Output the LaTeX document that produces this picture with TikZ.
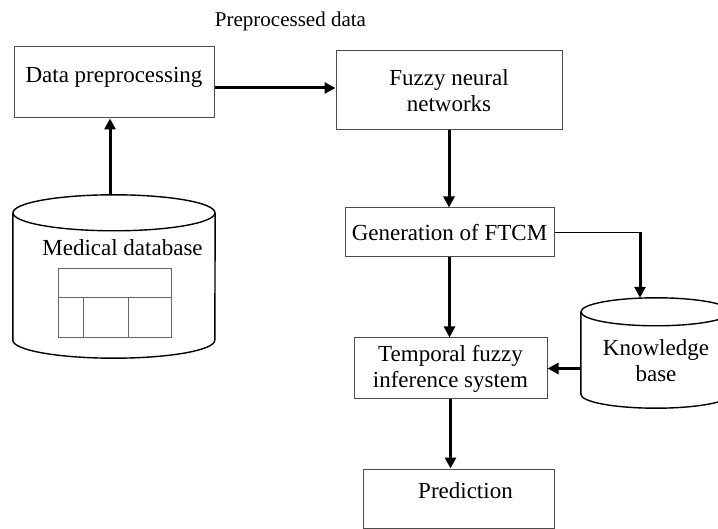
\documentclass[tikz,border=0pt]{standalone}
\usepackage{fontspec}
\setmainfont{Liberation Serif}
\usetikzlibrary{arrows.meta}
\tikzstyle{process} = [rectangle, draw=black!70, line width=1pt, inner sep=0pt, text centered, align=center, font=\fontsize{23}{26}\selectfont]
\tikzstyle{database} = [rectangle, inner sep=0pt]
\tikzstyle{plaintext} = [inner sep=0pt, align=center, font=\fontsize{23}{26}\selectfont]
\tikzstyle{cylline} = [line width=1.4pt]
\tikzstyle{tableline} = [draw=black!60, line width=0.9pt]
\tikzstyle{link} = [line width=1pt]
\tikzstyle{arrow} = [line width=3pt, -{Triangle[length=11pt,width=11pt]}]
% cylinder outline round a named node: name, x radius, y radius
\newcommand{\drawcyl}[3]{%
  \draw [cylline] ([yshift=-#3]#1.north) ellipse [x radius=#2, y radius=#3];
  \draw [cylline] ([yshift=-#3]#1.north west) -- ([yshift=#3]#1.south west)
    arc [start angle=180, end angle=360, x radius=#2, y radius=#3] -- ([yshift=-#3]#1.north east);}

\begin{document}
\begin{tikzpicture}[x=1pt, y=-1pt]
        \useasboundingbox (0,0) rectangle (718,529);

        % Boites
        \node (prep) [process, minimum width=200pt, minimum height=71pt, text height=12pt, text depth=12pt] at (114,82.5) {Data preprocessing};
        \node (fuzzy) [process, minimum width=226pt, minimum height=79pt] at (449,90.5) {Fuzzy neural\\networks};
        \node (gen) [process, minimum width=209pt, minimum height=49pt] at (449.5,232.5) {Generation of FTCM};
        \node (temp) [process, minimum width=193pt, minimum height=61pt] at (450.5,368.5) {Temporal fuzzy\\inference system};
        \node (pred) [process, minimum width=191pt, minimum height=59pt, text height=12pt, text depth=12pt] at (458.5,498.5) {\hspace*{14pt}Prediction};
        \node (prepLabel) [plaintext, font=\fontsize{21}{24}\selectfont] at (290.5,21.5) {Preprocessed data};

        % Bases de donnees
        \node (medDB) [database, minimum width=202pt, minimum height=163pt] at (114,276.5) {};
        \drawcyl{medDB}{101pt}{18pt}
        \node (medDBtext) [plaintext] at (122.5,248) {Medical database};
        \draw [tableline] (58,268) rectangle (171,337);
        \draw [tableline] (58,297) -- (171,297);
        \draw [tableline] (83,297) -- (83,337);
        \draw [tableline] (128,297) -- (128,337);

        \node (kb) [database, minimum width=150pt, minimum height=110pt] at (656,353) {};
        \drawcyl{kb}{75pt}{14pt}
        \node (kbtext) [plaintext] at (656,361) {Knowledge\\base};

        % Fleches
        \coordinate (prepOut) at ([yshift=-5.5pt]prep.east);
        \coordinate (kbIn) at ([xshift=-16pt]kb.north);
        \draw [arrow] ([xshift=-4pt]medDB.north) -- ([xshift=-4pt]prep.south);
        \draw [arrow] (prepOut) -- (prepOut -| fuzzy.west);
        \draw [arrow] (fuzzy.south) -- (fuzzy.south |- gen.north);
        \draw [link] (gen.east) -- (gen.east -| kbIn);
        \draw [arrow] (gen.east -| kbIn) -- (kbIn);
        \draw [arrow] (gen.south) -- (gen.south |- temp.north);
        \draw [arrow] (temp.east -| kb.west) -- (temp.east);
        \draw [arrow] (temp.south) -- (temp.south |- pred.north);

\end{tikzpicture}
\end{document}
